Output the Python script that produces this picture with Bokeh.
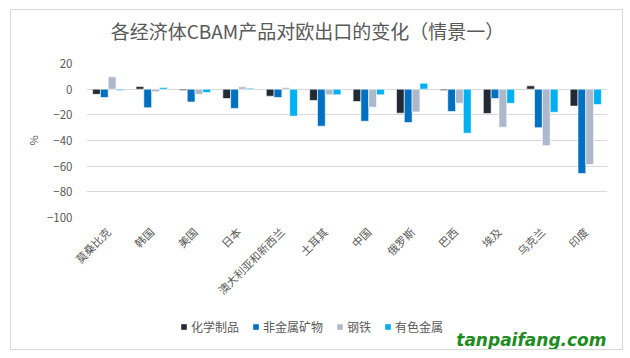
from bokeh.plotting import figure
from bokeh.layouts import column
from bokeh.models import (FactorRange, ColumnDataSource, Legend, LegendItem, Label,
                          Range1d, FixedTicker)
from bokeh.transform import dodge
from bokeh.embed import file_html
from bokeh.resources import INLINE
from math import pi

countries = ["莫桑比克", "韩国", "美国", "日本", "澳大利亚和新西兰", "土耳其",
             "中国", "俄罗斯", "巴西", "埃及", "乌克兰", "印度"]
chem = [-4, 2, -1, -7.3, -5.5, -8.8, -9.6, -18.7, -1, -19, 2.6, -13.2]
nonmetal = [-6.5, -14.5, -10, -15, -6.5, -28.8, -25, -26, -17.4, -7.3, -30, -65.7]
steel = [9.6, -2, -4, 1.8, 1.3, -4.4, -14, -17.7, -11, -29.6, -44, -58.7]
nonferrous = [-1, 1.3, -2.6, 0.8, -21, -4.4, -4.4, 4.7, -34.3, -11, -18, -12]
series_names = ["化学制品", "非金属矿物", "钢铁", "有色金属"]
y_ticks = [20, 0, -20, -40, -60, -80, -100]
title_text = "各经济体CBAM产品对欧出口的变化（情景一）"
watermark = "tanpaifang.com"

colors = ["#222a35", "#0070c0", "#adb9ca", "#00b0f0"]
FONT = "Noto Sans CJK SC"
GREY = "#595959"

src = ColumnDataSource(dict(cat=countries, chem=chem, nonmetal=nonmetal,
                            steel=steel, nonferrous=nonferrous))

ML, MR = 75, 15
W = 611
FW = W - ML - MR

# ---- title strip ----
r = figure(width=W, height=45, output_backend="svg", toolbar_location=None,
           x_range=Range1d(0, FW), y_range=Range1d(0, 45),
           min_border_left=ML, min_border_right=MR, min_border_top=0, min_border_bottom=0)
r.axis.visible = False
r.grid.visible = False
r.outline_line_color = None
r.add_layout(Label(x=221, y=25, text=title_text, text_align="center", text_baseline="middle",
                   text_font=FONT, text_font_size="19px", text_color=GREY))

# ---- main chart ----
p = figure(x_range=FactorRange(*countries), y_range=Range1d(-100, 20),
           width=W, height=255, output_backend="svg", toolbar_location=None,
           min_border_left=ML, min_border_right=MR, min_border_top=8,
           min_border_bottom=93)
p.outline_line_color = None
p.x_range.range_padding = 0

w = 0.18
offs = [-1.5 * w, -0.5 * w, 0.5 * w, 1.5 * w]
keys = ["chem", "nonmetal", "steel", "nonferrous"]
for k, o, c in zip(keys, offs, colors):
    p.vbar(x=dodge("cat", o, range=p.x_range), top=k, bottom=0, width=w,
           source=src, fill_color=c, line_color="white", line_width=0.6)

p.yaxis.ticker = FixedTicker(ticks=y_ticks)
p.ygrid.grid_line_color = "#d9d9d9"
p.ygrid.grid_line_width = 1
p.xgrid.grid_line_color = None
for ax in (p.xaxis, p.yaxis):
    ax.axis_line_color = None
    ax.major_tick_line_color = None
    ax.minor_tick_line_color = None
    ax.major_label_text_color = GREY
    ax.major_label_text_font = FONT
    ax.major_label_text_font_size = "11px"
p.yaxis.major_label_text_font_size = "11.5px"
p.xaxis.major_label_orientation = pi / 4
p.xaxis.major_label_standoff = 6
p.yaxis.major_label_standoff = 8
p.yaxis.axis_label = "%"
p.yaxis.axis_label_text_font = FONT
p.yaxis.axis_label_text_font_size = "11px"
p.yaxis.axis_label_text_font_style = "normal"
p.yaxis.axis_label_text_color = GREY
p.yaxis.axis_label_standoff = 3

# ---- legend strip ----
q = figure(width=W, height=39, output_backend="svg", toolbar_location=None,
           x_range=Range1d(0, FW), y_range=Range1d(0, 39),
           min_border_left=ML, min_border_right=MR, min_border_top=0, min_border_bottom=0)
q.axis.visible = False
q.grid.visible = False
q.outline_line_color = None
blank = ColumnDataSource(dict(x=[float("nan")], top=[float("nan")]))
leg_rs = [q.vbar(x="x", top="top", width=1, source=blank, fill_color=c, line_color=None)
          for c in colors]
legend = Legend(items=[LegendItem(label=n, renderers=[rr]) for n, rr in zip(series_names, leg_rs)],
                orientation="horizontal", location=(94, 14), padding=0, margin=0,
                spacing=13, label_standoff=4, glyph_width=7, glyph_height=7,
                label_text_font=FONT, label_text_font_size="12px", label_height=14,
                label_text_color=GREY, background_fill_alpha=0, border_line_color=None)
q.add_layout(legend)
q.add_layout(Label(x=520, y=10, text=watermark, text_align="right", text_baseline="middle",
                   text_font="DejaVu Sans", text_font_style="bold italic",
                   text_font_size="17px", text_color="#1e8c1e"))

page = column(r, p, q, spacing=0, margin=(9, 0, 0, 10),
              styles={"border": "1px solid #d9d9d9"})

open("out.html", "w").write(file_html(page, INLINE))
